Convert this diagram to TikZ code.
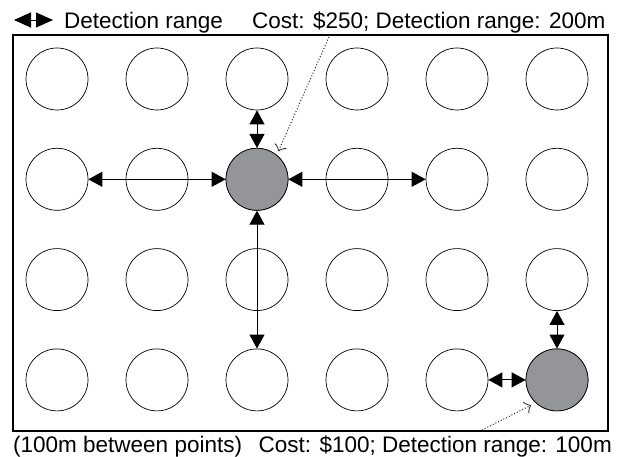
\documentclass[tikz,border=0pt]{standalone}
\usepackage{fontspec}
\setmainfont{Liberation Sans}
\usetikzlibrary{arrows.meta}
\definecolor{sensorgray}{RGB}{147,149,152}
\tikzset{
  spot/.style={circle,draw,line width=0.7pt,minimum size=62pt,inner sep=0pt,fill=white},
  sensor/.style={spot,fill=sensorgray},
  reach/.style={{Triangle[length=14pt,width=15pt]}-{Triangle[length=14pt,width=15pt]},line width=0.9pt},
  keyreach/.style={{Triangle[length=17pt,width=15pt]}-{Triangle[length=17pt,width=15pt]},line width=0.9pt},
  note/.style={dotted,line width=1pt,black!85,-{Classical TikZ Rightarrow[length=6pt,width=13pt]}},
  txt/.style={inner sep=0pt,font=\fontsize{22.5}{26}\selectfont}
}
\begin{document}
\begin{tikzpicture}[x=1pt,y=-1pt]
    \useasboundingbox (0,0) rectangle (621,457);
    \draw[line width=1.2pt] (13,35) rectangle (608,431);
    \foreach \c in {1,...,6}
        \foreach \r in {1,...,4}
            \node[spot] (p-\c-\r) at ({57+100*(\c-1)},{79+100.3*(\r-1)}) {};
    \node[sensor] (g1) at (p-3-2) {};
    \node[sensor] (g2) at (p-6-4) {};
    \draw[reach] (g1) -- (p-3-1);
    \draw[reach] (g1) -- (p-1-2);
    \draw[reach] (g1) -- (p-5-2);
    \draw[reach] (g1) -- (p-3-4);
    \draw[reach] (g2) -- (p-6-3);
    \draw[reach] (g2) -- (p-5-4);
    \coordinate (key-a) at (14,20);
    \coordinate (key-b) at (53,20);
    \draw[keyreach] (key-a) -- (key-b);
    \node[txt,anchor=base west] (key) at (64,29) {Detection range};
    \node[txt,anchor=base west] (cost-a) at (252,29) {Cost: \$250; Detection range: 200m};
    \node[txt,anchor=base west] (spacing) at (13,452) {(100m between points)};
    \node[txt,anchor=base east] (cost-b) at (612,452) {Cost: \$100; Detection range: 100m};
    \coordinate (ann-a) at (329,37);
    \coordinate (ann-b) at (482,430);
    \draw[note,shorten >=4pt] (ann-a) -- (g1.51);
    \draw[note,shorten >=5pt] (ann-b) -- (g2.227);
\end{tikzpicture}
\end{document}
